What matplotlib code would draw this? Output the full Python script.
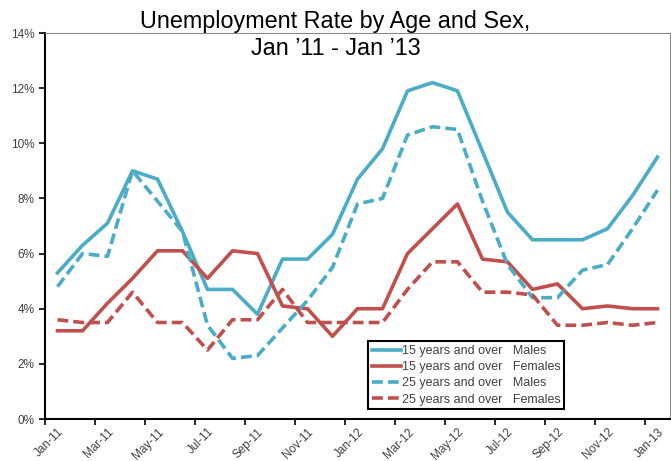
import matplotlib.pyplot as plt
import numpy as np

plt.rcParams['font.family'] = ['Liberation Sans', 'DejaVu Sans']

months = ["Jan-11", "Feb-11", "Mar-11", "Apr-11", "May-11", "Jun-11", "Jul-11", "Aug-11",
          "Sep-11", "Oct-11", "Nov-11", "Dec-11", "Jan-12", "Feb-12", "Mar-12", "Apr-12",
          "May-12", "Jun-12", "Jul-12", "Aug-12", "Sep-12", "Oct-12", "Nov-12", "Dec-12", "Jan-13"]

males_15 = [5.3, 6.3, 7.1, 9.0, 8.7, 6.8, 4.7, 4.7, 3.8, 5.8, 5.8, 6.7, 8.7,
            9.8, 11.9, 12.2, 11.9, 9.7, 7.5, 6.5, 6.5, 6.5, 6.9, 8.1, 9.5]
females_15 = [3.2, 3.2, 4.2, 5.1, 6.1, 6.1, 5.1, 6.1, 6.0, 4.1, 4.0, 3.0, 4.0,
              4.0, 6.0, 6.9, 7.8, 5.8, 5.7, 4.7, 4.9, 4.0, 4.1, 4.0, 4.0]
males_25 = [4.8, 6.0, 5.9, 9.0, 7.9, 6.8, 3.4, 2.2, 2.3, 3.3, 4.3, 5.5, 7.8,
            8.0, 10.3, 10.6, 10.5, 7.9, 5.6, 4.4, 4.4, 5.4, 5.6, 6.9, 8.3]
females_25 = [3.6, 3.5, 3.5, 4.6, 3.5, 3.5, 2.5, 3.6, 3.6, 4.7, 3.5, 3.5, 3.5,
              3.5, 4.7, 5.7, 5.7, 4.6, 4.6, 4.5, 3.4, 3.4, 3.5, 3.4, 3.5]

labels = ["15 years and over   Males", "15 years and over   Females",
          "25 years and over   Males", "25 years and over   Females"]

blue = "#4bacc6"
red = "#c0504d"

fig = plt.figure(figsize=(6.71, 4.61), dpi=100)
ax = fig.add_axes([45/671, 1-419/461, 625/671, 386/461])

x = np.arange(len(months))
ax.plot(x, males_15, color=blue, lw=2.6, label=labels[0])
ax.plot(x, females_15, color=red, lw=2.6, label=labels[1])
ax.plot(x, males_25, color=blue, lw=2.6, ls=(0, (3, 1.4)), label=labels[2])
ax.plot(x, females_25, color=red, lw=2.6, ls=(0, (3, 1.4)), label=labels[3])

ax.set_xlim(-0.5, len(months) - 0.5)
ax.set_ylim(0, 14)

ax.set_yticks(np.arange(0, 15, 2))
ax.set_yticklabels([f"{v}%" for v in range(0, 15, 2)])

# tick marks between categories, labels on the categories
ax.set_xticks(np.arange(-0.5, len(months), 2))
ax.set_xticklabels([])
ax.set_xticks(x[::2], minor=True)
ax.set_xticklabels(months[::2], minor=True, rotation=45, ha='right',
                   rotation_mode='anchor')
ax.tick_params(axis='x', which='minor', length=0, pad=5)
ax.tick_params(axis='x', which='major', length=4, width=1.2, color='black')
ax.tick_params(axis='y', length=4, width=1.2, color='black')
ax.tick_params(labelsize=8.5, labelcolor='#404040', which='both')

ax.spines['left'].set_linewidth(1.5)
ax.spines['bottom'].set_linewidth(1.5)
ax.spines['top'].set_color('#888888')
ax.spines['right'].set_color('#888888')

leg = ax.legend(loc='upper left', bbox_to_anchor=(0.507, 0.217), fontsize=9,
                fancybox=False, edgecolor='black', framealpha=1,
                handlelength=2.3, handletextpad=0.1, labelspacing=0.33,
                borderpad=0.3)
leg.get_frame().set_linewidth(1.5)
for t in leg.get_texts():
    t.set_color('#404040')

fig.text(0.5, 0.978, "Unemployment Rate by Age and Sex,\nJan \u201911 - Jan \u201913",
         ha='center', va='top', fontsize=16.8, linespacing=1.2)

fig.savefig("out.png", dpi=100)
